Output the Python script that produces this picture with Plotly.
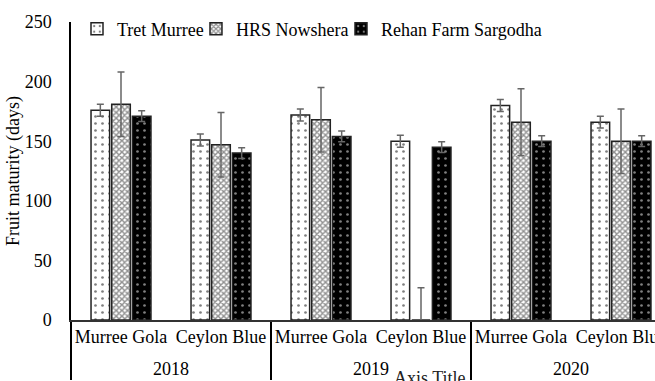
import plotly.graph_objects as go

# Fruit maturity (days) of two varieties at three sites over three seasons
years = ["2018", "2018", "2019", "2019", "2020", "2020"]
varieties = ["Murree Gola", "Ceylon Blue"] * 3

tret = [176, 151, 172, 150, 180, 166]
tret_err = [5, 5, 5, 5, 5, 5]
hrs = [181, 147, 168, 0, 166, 150]
hrs_err = [27, 27, 27, 27, 28, 27]
rehan = [171, 140, 154, 145, 150, 150]
rehan_err = [4.5, 4.5, 4.5, 4.5, 4.5, 4.5]

series = [
    ("Tret Murree", tret, tret_err, dict(shape=".", bgcolor="white", fgcolor="black", size=7, solidity=0.12)),
    ("HRS Nowshera", hrs, hrs_err, dict(shape="x", bgcolor="white", fgcolor="#222222", size=4, solidity=0.6)),
    ("Rehan Farm Sargodha", rehan, rehan_err, dict(shape=".", bgcolor="black", fgcolor="white", size=7, solidity=0.12)),
]
# left edge of each legend entry (paper fraction)
legend_x = [0.01, 0.2083, 0.45]

FONT = "Liberation Serif, Times New Roman, serif"

# wide non-breaking spaces make the inner label row taller, pushing the year row lower
pad = "<span style='font-size:27px'>\u00a0</span>"
inner_labels = [pad + v + pad for v in varieties]

fig = go.Figure()
for i, (name, vals, errs, pat) in enumerate(series):
    lg = "legend" if i == 0 else f"legend{i + 1}"
    fig.add_trace(go.Bar(
        name=name,
        x=[years, inner_labels],
        y=vals,
        legend=lg,
        marker=dict(color=pat["bgcolor"], pattern=pat, line=dict(color="#222222", width=1.5)),
        error_y=dict(type="data", array=errs, visible=True, color="#666666", thickness=1.5, width=3.5),
    ))

legend_style = dict(orientation="h", xanchor="left", y=0.976, yanchor="middle",
                    bgcolor="rgba(0,0,0,0)", font=dict(size=18), itemwidth=30)

fig.update_layout(
    width=700, height=400,
    margin=dict(l=71, r=29, t=22, b=80, autoexpand=False),
    paper_bgcolor="white", plot_bgcolor="white",
    font=dict(family=FONT, size=18, color="black"),
    barmode="group", bargap=0.38, bargroupgap=0.1,
    showlegend=True,
    legend=dict(x=legend_x[0], **legend_style),
    legend2=dict(x=legend_x[1], **legend_style),
    legend3=dict(x=legend_x[2], **legend_style),
)
fig.update_yaxes(range=[0, 250], tickvals=[0, 50, 100, 150, 200, 250], showgrid=False,
                 showline=True, linecolor="black", linewidth=1.5, ticks="", ticklabelstandoff=14,
                 zeroline=False, automargin=False,
                 title=dict(text="Fruit maturity (days)", font=dict(size=18), standoff=0))
fig.update_xaxes(type="multicategory", showline=True, linecolor="#333333", linewidth=1.5,
                 showdividers=True, dividercolor="black", dividerwidth=1.5, ticks="", showgrid=False,
                 tickfont=dict(size=18), tickangle=0, automargin=False)

fig.add_annotation(text="Axis Title", xref="paper", yref="paper", x=0.598, y=-0.195,
                   xanchor="center", yanchor="middle", showarrow=False,
                   font=dict(size=18, color="#222222"))

fig.write_html("out.html", post_script="document.body.style.margin='0';document.body.style.overflow='hidden';")
